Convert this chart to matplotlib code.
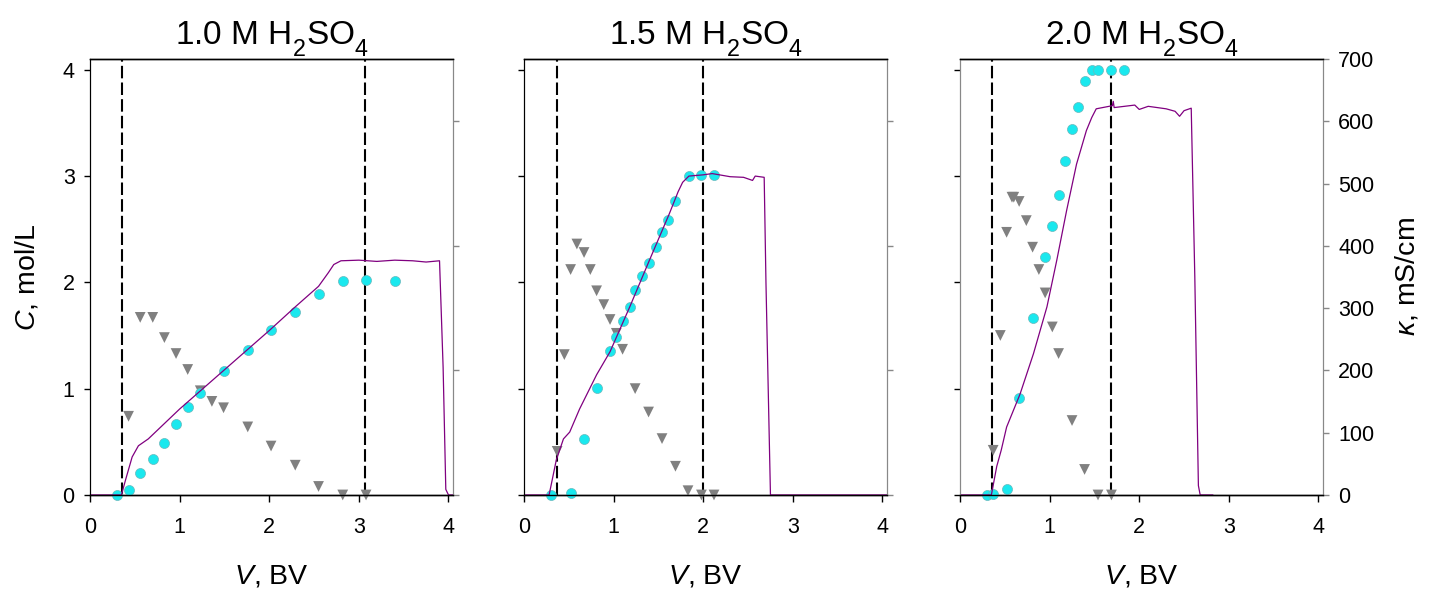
import matplotlib

matplotlib.use("Agg")
import matplotlib.pyplot as plt

plt.rcParams["font.family"] = ["Liberation Sans", "DejaVu Sans"]
plt.rcParams["mathtext.fontset"] = "custom"
plt.rcParams["mathtext.rm"] = "Liberation Sans"
plt.rcParams["mathtext.it"] = "Liberation Sans:italic"
plt.rcParams["mathtext.default"] = "regular"

# subscripts in the original sit lower than mathtext's default
try:
    from matplotlib import _mathtext
    _mathtext.FontConstantsBase.sub1 = 0.68
except Exception:
    pass

# --- data, one block per acid concentration ---
titles = ["1.0 M H$_2$SO$_4$", "1.5 M H$_2$SO$_4$", "2.0 M H$_2$SO$_4$"]

# cyan circles (C, mol/L)
circ_v_10 = [0.30, 0.43, 0.56, 0.70, 0.83, 0.96, 1.09, 1.23, 1.49, 1.76, 2.02, 2.29, 2.55, 2.82, 3.08, 3.40]
circ_c_10 = [0.00, 0.05, 0.21, 0.34, 0.49, 0.67, 0.83, 0.96, 1.17, 1.36, 1.55, 1.72, 1.89, 2.01, 2.02, 2.01]
circ_v_15 = [0.30, 0.52, 0.67, 0.81, 0.96, 1.03, 1.10, 1.18, 1.24, 1.32, 1.39, 1.47, 1.54, 1.61, 1.69, 1.84, 1.98, 2.12]
circ_c_15 = [0.00, 0.02, 0.53, 1.01, 1.35, 1.49, 1.64, 1.77, 1.93, 2.06, 2.18, 2.33, 2.47, 2.59, 2.76, 3.00, 3.01, 3.01]
circ_v_20 = [0.30, 0.37, 0.52, 0.66, 0.81, 0.95, 1.03, 1.10, 1.17, 1.25, 1.32, 1.39, 1.47, 1.54, 1.69, 1.83]
circ_c_20 = [0.00, 0.01, 0.06, 0.91, 1.66, 2.24, 2.53, 2.82, 3.14, 3.44, 3.65, 3.89, 4.00, 4.00, 4.00, 4.00]

# grey triangles (C, mol/L)
tri_v_10 = [0.43, 0.56, 0.70, 0.83, 0.96, 1.09, 1.23, 1.36, 1.49, 1.76, 2.02, 2.29, 2.55, 2.82, 3.08]
tri_c_10 = [0.74, 1.67, 1.67, 1.48, 1.33, 1.18, 0.98, 0.88, 0.82, 0.64, 0.46, 0.28, 0.08, 0.00, 0.00]
tri_v_15 = [0.37, 0.45, 0.52, 0.59, 0.67, 0.74, 0.81, 0.89, 0.96, 1.03, 1.10, 1.24, 1.39, 1.54, 1.69, 1.83, 1.98, 2.12]
tri_c_15 = [0.41, 1.32, 2.12, 2.36, 2.28, 2.12, 1.92, 1.79, 1.65, 1.52, 1.37, 1.00, 0.78, 0.53, 0.27, 0.04, 0.00, 0.00]
tri_v_20 = [0.37, 0.45, 0.52, 0.58, 0.60, 0.66, 0.74, 0.81, 0.88, 0.95, 1.03, 1.10, 1.25, 1.39, 1.54, 1.69]
tri_c_20 = [0.42, 1.50, 2.47, 2.80, 2.80, 2.76, 2.58, 2.33, 2.12, 1.90, 1.58, 1.33, 0.70, 0.24, 0.00, 0.00]

# purple conductivity trace (kappa, mS/cm)
kap_v_10 = [0.00, 0.35, 0.40, 0.47, 0.54, 0.65, 1.00, 1.50, 2.00, 2.29, 2.55, 2.66, 2.72, 2.80, 3.00, 3.20,
            3.40, 3.60, 3.75, 3.90, 3.94, 3.97, 4.00, 4.05]
kap_10 = [0, 0, 26, 61, 79, 90, 138, 201, 264, 302, 335, 357, 370, 376, 377, 375,
          377, 376, 374, 376, 205, 9, 0, 0]
kap_v_15 = [0.00, 0.28, 0.36, 0.44, 0.51, 0.62, 0.81, 0.96, 1.18, 1.40, 1.62, 1.72, 1.77, 1.84, 2.00, 2.10,
            2.30, 2.45, 2.55, 2.58, 2.68, 2.70, 2.75, 4.05]
kap_15 = [0, 0, 56, 90, 101, 138, 193, 230, 302, 377, 451, 487, 502, 512, 514, 516,
          511, 510, 505, 512, 510, 340, 0, 0]
kap_v_20 = [0.00, 0.35, 0.41, 0.46, 0.52, 0.67, 0.82, 0.97, 1.08, 1.19, 1.30, 1.41, 1.47, 1.52, 1.70,
            1.71, 1.72, 1.95, 2.00, 2.10, 2.30, 2.40, 2.45, 2.50, 2.58, 2.62, 2.66, 2.68, 2.82]
kap_20 = [0, 0, 46, 72, 109, 162, 227, 302, 377, 457, 531, 585, 606, 620, 625,
          632, 622, 626, 619, 624, 620, 616, 608, 617, 621, 350, 15, 0, 0]

# dashed cut-off volumes (BV)
cuts_10 = [0.354, 3.07]
cuts_15 = [0.363, 2.00]
cuts_20 = [0.356, 1.69]

panels = [
    (circ_v_10, circ_c_10, tri_v_10, tri_c_10, kap_v_10, kap_10, cuts_10),
    (circ_v_15, circ_c_15, tri_v_15, tri_c_15, kap_v_15, kap_15, cuts_15),
    (circ_v_20, circ_c_20, tri_v_20, tri_c_20, kap_v_20, kap_20, cuts_20),
]

fig = plt.figure(figsize=(14.38, 5.97), dpi=100)
lefts = [0.0626, 0.3644, 0.6676]

for i, (cv, cc, tv, tc, kv, kk, cuts) in enumerate(panels):
    ax = fig.add_axes([lefts[i], 0.1709, 0.2524, 0.7303])
    for x in cuts:
        ax.axvline(x, color="black", lw=1.5, dashes=(6, 2), zorder=1)
    ax.scatter(tv, tc, marker="v", s=60, color="#808080", edgecolor="none", zorder=3, clip_on=False)
    ax.scatter(cv, cc, marker="o", s=52, facecolor="#1ae8ee", edgecolor="#6ab8bc",
               linewidth=0.5, zorder=4, clip_on=False)
    ax.set_xlim(0, 4.05)
    ax.set_ylim(0, 4.1)
    ax.set_xticks([0, 1, 2, 3, 4])
    ax.set_yticks([0, 1, 2, 3, 4])
    ax.tick_params(axis="x", direction="out", length=5, width=1, labelsize=15.5, pad=11)
    ax.tick_params(axis="y", direction="out", length=4, width=1, labelsize=15.5, pad=7)
    if i > 0:
        ax.tick_params(axis="y", labelleft=False)
    ax.set_title(titles[i], fontsize=24, pad=9)
    ax.set_xlabel("$\\mathit{V}$, BV", fontsize=20.5, labelpad=18)
    if i == 0:
        ax.set_ylabel("$\\mathit{C}$, mol/L", fontsize=20.5, labelpad=16)

    # conductivity on the twin axis, drawn on top
    ax2 = ax.twinx()
    ax2.plot(kv, kk, color="#800080", lw=0.9)
    ax2.set_ylim(0, 700)
    ax2.set_xlim(0, 4.05)
    if i == 2:
        ax2.set_yticks(range(0, 701, 100))
        ax2.tick_params(axis="y", direction="out", length=4, width=1, labelsize=15.5, pad=7)
        ax2.set_ylabel("$\\mathit{\\kappa}$, mS/cm", fontsize=20.5, labelpad=14)
    else:
        ax2.set_yticks([0, 200, 400, 600])
        ax2.tick_params(axis="y", direction="out", length=4, width=1, labelright=False)

    for a in (ax, ax2):
        for side in ("top", "bottom"):
            a.spines[side].set_color("black")
            a.spines[side].set_linewidth(1.0)
        a.spines["right"].set_color("#888888")
        a.spines["left"].set_color("black" if i < 2 else "#888888")
    ax2.tick_params(axis="y", colors="#888888", labelcolor="black")

fig.savefig("out.png", dpi=100)
